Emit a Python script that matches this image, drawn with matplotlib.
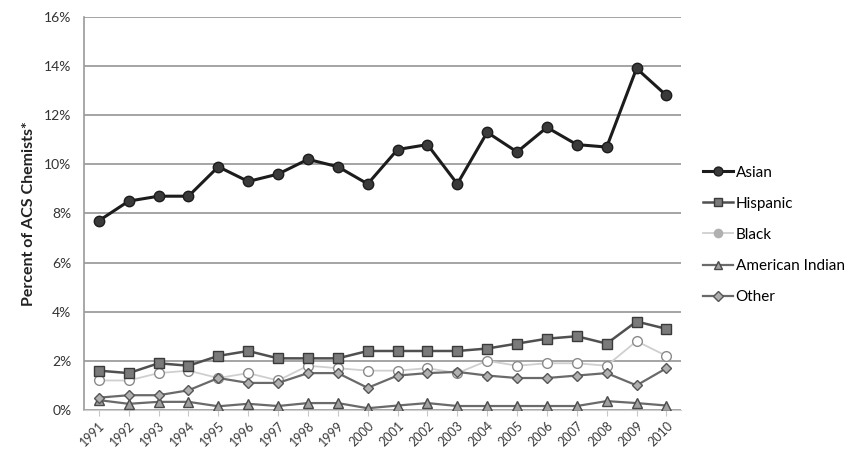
import matplotlib.pyplot as plt
from matplotlib.ticker import FuncFormatter

# dados
anos = list(range(1991, 2011))
asian = [7.7, 8.5, 8.7, 8.7, 9.9, 9.3, 9.6, 10.2, 9.9, 9.2, 10.6, 10.8, 9.2, 11.3, 10.5, 11.5, 10.8, 10.7, 13.9, 12.8]
hispanic = [1.6, 1.5, 1.9, 1.8, 2.2, 2.4, 2.1, 2.1, 2.1, 2.4, 2.4, 2.4, 2.4, 2.5, 2.7, 2.9, 3.0, 2.7, 3.6, 3.3]
black = [1.2, 1.2, 1.5, 1.6, 1.3, 1.5, 1.2, 1.8, 1.7, 1.6, 1.6, 1.7, 1.5, 2.0, 1.8, 1.9, 1.9, 1.8, 2.8, 2.2]
amer_indian = [0.4, 0.25, 0.33, 0.33, 0.15, 0.25, 0.16, 0.28, 0.28, 0.07, 0.18, 0.28, 0.16, 0.16, 0.16, 0.16, 0.16, 0.36, 0.28, 0.18]
other = [0.5, 0.6, 0.6, 0.8, 1.3, 1.1, 1.1, 1.5, 1.5, 0.9, 1.4, 1.5, 1.55, 1.4, 1.3, 1.3, 1.4, 1.5, 1.0, 1.7]

plt.rcParams['font.family'] = ['Lato', 'DejaVu Sans']

fig = plt.figure(figsize=(8.56, 4.55), dpi=100)
ax = fig.add_axes([0.098, 0.099, 0.698, 0.864])

x = list(range(len(anos)))

# linhas (ordem de desenho: as claras primeiro)
ax.plot(x, black, color='#cfcfcf', lw=1.3, marker='o', ms=7,
        mfc='white', mec='#8a8a8a', mew=1.0, label='Black', zorder=3)
ax.plot(x, amer_indian, color='#6a6a6a', lw=1.6, marker='^', ms=7,
        mfc='#a0a0a0', mec='#4a4a4a', mew=1.0, label='American Indian', zorder=4)
ax.plot(x, other, color='#6a6a6a', lw=1.6, marker='D', ms=5.5,
        mfc='#b0b0b0', mec='#555555', mew=1.0, label='Other', zorder=5)
ax.plot(x, hispanic, color='#505050', lw=1.8, marker='s', ms=7,
        mfc='#7a7a7a', mec='#3a3a3a', mew=1.0, label='Hispanic', zorder=6)
ax.plot(x, asian, color='#1c1c1c', lw=2.2, marker='o', ms=7.5,
        mfc='#3a3a3a', mec='#1c1c1c', mew=1.0, label='Asian', zorder=7)

ax.set_xlim(-0.5, len(anos) - 0.5)
ax.set_ylim(0, 16)
ax.set_yticks(range(0, 17, 2))
ax.yaxis.set_major_formatter(FuncFormatter(lambda v, p: f'{int(v)}%'))
ax.set_xticks(x)
ax.set_xticklabels([str(a) for a in anos], rotation=45, ha='right',
                   rotation_mode='anchor', fontsize=9, color='#3a3a3a')
ax.tick_params(axis='y', labelsize=10, colors='#333333', length=0, pad=9)
ax.tick_params(axis='x', length=4, color='#c8c8c8', pad=3)

ax.grid(axis='y', color='#8c8c8c', lw=1.1)
ax.set_axisbelow(True)
for lado in ['top', 'right']:
    ax.spines[lado].set_visible(False)
ax.spines['left'].set_color('#9a9a9a')
ax.spines['left'].set_linewidth(1.2)
ax.spines['bottom'].set_color('#d0d0d0')

ax.set_ylabel('Percent of ACS Chemists*', fontsize=11.5, fontweight='bold',
              color='#222222', labelpad=6)

# legenda na ordem do original
handles, labels = ax.get_legend_handles_labels()
ordem = ['Asian', 'Hispanic', 'Black', 'American Indian', 'Other']
hmap = dict(zip(labels, handles))
leg = fig.legend([hmap[o] for o in ordem], ordem, loc='center left',
                 bbox_to_anchor=(0.805, 0.484), frameon=False, fontsize=11,
                 handlelength=2.0, handletextpad=0.15, labelspacing=1.12,
                 markerscale=0.85)
# marcador do Black na legenda aparece cinza preenchido
leg.legend_handles[2].set_markerfacecolor('#b0b0b0')
leg.legend_handles[2].set_markeredgecolor('#b0b0b0')

plt.savefig('out.png', dpi=100)
